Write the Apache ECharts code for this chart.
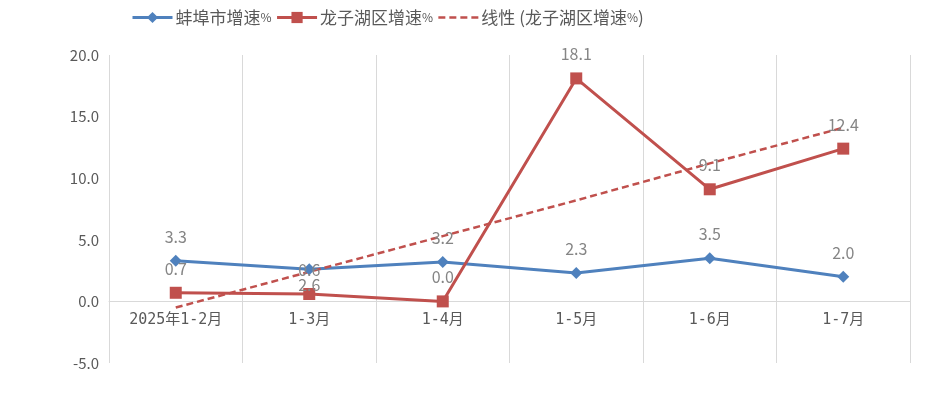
<!DOCTYPE html>
<html>
<head>
<meta charset="utf-8">
<script src="https://cdn.jsdelivr.net/npm/echarts@6/dist/echarts.min.js"></script>
<style>
html,body{margin:0;padding:0;background:#fff;}
#c{width:929px;height:395px;}
</style>
</head>
<body>
<div id="c"></div>
<script>
const categories = ['2025年1-2月', '1-3月', '1-4月', '1-5月', '1-6月', '1-7月'];
const bengbu = [3.3, 2.6, 3.2, 2.3, 3.5, 2.0];
const longzihu = [0.7, 0.6, 0.0, 18.1, 9.1, 12.4];
const trend = [-0.5, 2.4, 5.3, 8.2, 11.2, 14.1];
const seriesNames = ['蚌埠市增速%', '龙子湖区增速%', '线性 (龙子湖区增速%)'];
const yTicks = { min: -5, max: 20, interval: 5 };

const FONT = '"Noto Sans CJK SC", "Noto Sans", sans-serif';
const MONO = '"DejaVu Sans Mono", "Noto Sans CJK SC", monospace';
const BLUE = '#4F81BD', RED = '#C0504D';
const labelStyle = { show: true, position: 'top', distance: 10, color: '#858585', fontSize: 16, fontFamily: FONT, formatter: p => p.value.toFixed(1) };

const gridTop = 55, gridBottom = 32, H = 395;
const plotH = H - gridTop - gridBottom;
const zeroOffset = -plotH * (0 - yTicks.min) / (yTicks.max - yTicks.min);

const chart = echarts.init(document.getElementById('c'));
chart.setOption({
  animation: false,
  grid: { left: 109, right: 19, top: gridTop, bottom: gridBottom },
  legend: {
    left: 126, top: 4, itemWidth: 40, itemHeight: 14, itemGap: 4,
    textStyle: { color: '#595959', fontSize: 17, fontFamily: FONT, padding: [0, 0, 0, -2],
      rich: { p: { fontSize: 12, color: '#595959', fontFamily: FONT } } },
    formatter: n => n.replace('%', '{p|%}'),
    data: [
      { name: seriesNames[0], lineStyle: { width: 3 } },
      { name: seriesNames[1], lineStyle: { width: 3 } },
      { name: seriesNames[2], itemStyle: { opacity: 0 }, lineStyle: { width: 2.5 } }
    ]
  },
  xAxis: {
    type: 'category', data: categories, boundaryGap: true,
    offset: zeroOffset,
    axisLine: { show: true, onZero: false, lineStyle: { color: '#d9d9d9', width: 1 } },
    axisTick: { show: false },
    axisLabel: { color: '#595959', fontSize: 15, fontFamily: MONO, margin: 11 },
    splitLine: { show: true, lineStyle: { color: '#d9d9d9', width: 1 } }
  },
  yAxis: {
    type: 'value', min: yTicks.min, max: yTicks.max, interval: yTicks.interval,
    axisLine: { show: false }, axisTick: { show: false }, splitLine: { show: false },
    axisLabel: { color: '#595959', fontSize: 15, fontFamily: FONT, margin: 10, formatter: v => v.toFixed(1) }
  },
  series: [
    {
      name: seriesNames[0], type: 'line', data: bengbu.map((v, i) => i === 1 ? { value: v, label: { position: 'bottom', distance: 2 } } : v),
      color: BLUE, symbol: 'diamond', symbolSize: 12,
      lineStyle: { color: BLUE, width: 3 }, itemStyle: { color: BLUE },
      label: labelStyle
    },
    {
      name: seriesNames[1], type: 'line', data: longzihu,
      color: RED, symbol: 'rect', symbolSize: 12,
      lineStyle: { color: RED, width: 3 }, itemStyle: { color: RED },
      label: labelStyle
    },
    {
      name: seriesNames[2], type: 'line', data: trend,
      color: RED, symbol: 'none',
      lineStyle: { color: RED, width: 2.5, type: [7, 4] },
      itemStyle: { color: RED }
    }
  ]
});
</script>
</body>
</html>
